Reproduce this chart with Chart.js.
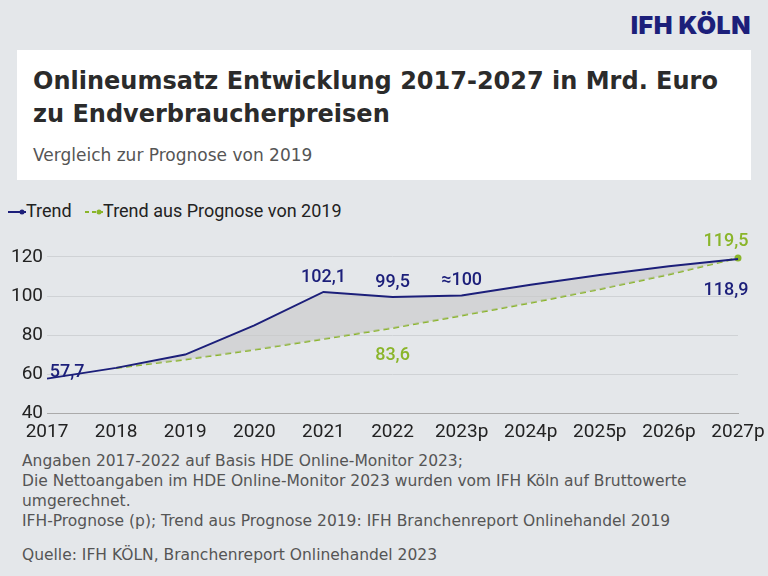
<!DOCTYPE html>
<html><head><meta charset="utf-8">
<script src="https://cdn.jsdelivr.net/npm/chart.js@4"></script>
<style>
body{margin:0;width:768px;height:576px;background:#e4e7ea;font-family:Roboto,sans-serif;position:relative;overflow:hidden}
#logo{position:absolute;right:17px;top:10px;font:900 25px Inter,Roboto,sans-serif;color:#1c1f7a;letter-spacing:0.5px}
#box{position:absolute;left:17px;top:50px;width:734px;height:130px;background:#fff}
#t{position:absolute;left:16px;top:15px;font:700 24px "DejaVu Sans",sans-serif;color:#2b2b2b;line-height:33px}
#s{position:absolute;left:16px;top:95px;font:17px "DejaVu Sans",sans-serif;color:#555}
#leg{position:absolute;left:8px;top:200px;font:18px Roboto,sans-serif;color:#222}
#foot{position:absolute;left:22px;top:451px;font:15.5px "DejaVu Sans",sans-serif;color:#555;line-height:20px;width:735px}
#q{margin-top:14px}
#wrap{position:absolute;left:0;top:222px;width:768px;height:222px}
</style></head><body>
<div id="logo">IFH KÖLN</div>
<div id="box"><div id="t">Onlineumsatz Entwicklung 2017-2027 in Mrd. Euro<br>zu Endverbraucherpreisen</div><div id="s">Vergleich zur Prognose von 2019</div></div>
<div id="leg"><svg width="18" height="10"><line x1="0" y1="5" x2="18" y2="5" stroke="#1c1f7a" stroke-width="2"/><circle cx="14" cy="5" r="2.5" fill="#1c1f7a"/></svg>Trend &nbsp;&nbsp;<svg width="18" height="10"><line x1="0" y1="5" x2="18" y2="5" stroke="#8ab52a" stroke-width="2" stroke-dasharray="4 3"/><circle cx="14" cy="5" r="2.5" fill="#8ab52a"/></svg>Trend aus Prognose von 2019</div>
<div id="wrap"><canvas id="c"></canvas></div>
<div id="foot">Angaben 2017-2022 auf Basis HDE Online-Monitor 2023;<br>Die Nettoangaben im HDE Online-Monitor 2023 wurden vom IFH Köln auf Bruttowerte umgerechnet.<br>IFH-Prognose (p); Trend aus Prognose 2019: IFH Branchenreport Onlinehandel 2019<div id="q">Quelle: IFH KÖLN, Branchenreport Onlinehandel 2023</div></div>
<script>
const categories=["2017","2018","2019","2020","2021","2022","2023p","2024p","2025p","2026p","2027p"];
const trend=[57.7,63.2,70,85,102.1,99.5,100.3,105.8,110.8,115.2,118.9];
const prognose2019=[null,63.2,67.5,72.5,78,83.6,90,96.5,103.5,111,119.5];
const trendLabels={0:"57,7",4:"102,1",5:"99,5",6:"≈100",10:"118,9"};
const progLabels={5:"83,6",10:"119,5"};
const navy="#1c1f7a",green="#8ab52a";
const labelPlugin={id:"lbl",afterDatasetsDraw(ch){const c=ch.ctx;c.save();c.font="500 18px Roboto";c.textAlign="center";
const m0=ch.getDatasetMeta(0),m1=ch.getDatasetMeta(1);
c.fillStyle=navy;for(const k in trendLabels){const p=m0.data[k];let dy=-10,dx=0;if(k==10)dy=36,dx=-12;if(k==0)dx=20,dy=-2;c.fillText(trendLabels[k],p.x+dx,p.y+dy);}
c.fillStyle=green;for(const k in progLabels){const p=m1.data[k];let dy=k==5?32:-12,dx=k==10?-12:0;c.fillText(progLabels[k],p.x+dx,p.y+dy);}
c.restore();}};
new Chart(document.getElementById("c"),{type:"line",data:{labels:categories,datasets:[
{data:trend,borderColor:navy,borderWidth:2,tension:0,pointRadius:0,fill:{target:1,above:"rgba(200,200,200,0.6)",below:"rgba(200,200,200,0.6)"}},
{data:prognose2019,borderColor:green,borderWidth:2,borderDash:[6,4],tension:0,pointRadius:ctx=>ctx.dataIndex==10?2.5:0,pointBackgroundColor:green,fill:false}]},
options:{responsive:true,maintainAspectRatio:false,animation:false,layout:{padding:{left:7,right:30,top:0,bottom:0}},
plugins:{legend:{display:false},tooltip:{enabled:false}},
scales:{x:{offset:false,grid:{display:false},border:{color:"#aaa"},ticks:{color:"#222",font:{size:19,family:"Roboto"},maxRotation:0,autoSkip:false,padding:0}},
y:{min:40,max:130,afterBuildTicks(a){a.ticks=[40,60,80,100,120].map(v=>({value:v}));},grid:{color:"#cfd2d5",drawTicks:false},border:{display:false},ticks:{color:"#222",font:{size:19,family:"Roboto"},padding:4}}}},
plugins:[labelPlugin]});
</script></body></html>
